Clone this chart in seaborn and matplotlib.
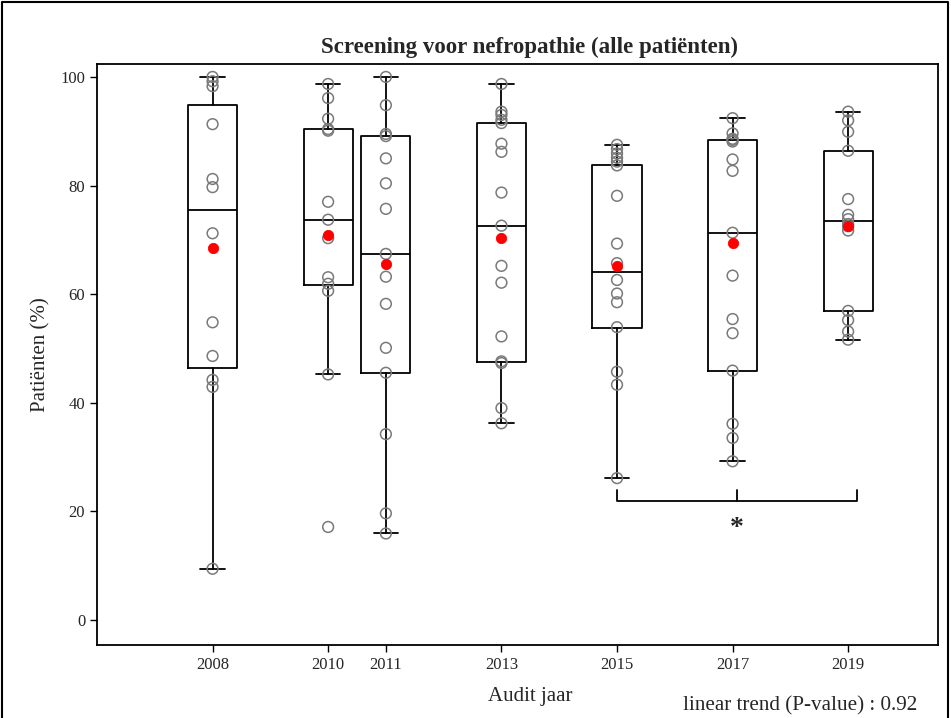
import pandas as pd
import matplotlib
matplotlib.use("Agg")
import matplotlib.pyplot as plt
import seaborn as sns

# audit years and per-centre percentages
years = [2008, 2010, 2011, 2013, 2015, 2017, 2019]

pts_2008 = [100, 99.2, 98.3, 91.3, 81.2, 79.7, 71.2, 54.8, 48.6, 44.2, 42.9, 9.4]
pts_2010 = [98.7, 96.1, 92.3, 90.4, 90.1, 77.0, 73.7, 70.3, 63.1, 61.9, 60.6, 45.2, 17.1]
pts_2011 = [100, 94.8, 89.5, 89.1, 85.0, 80.4, 75.7, 67.4, 63.2, 58.2, 50.1, 45.5, 34.2, 19.6, 15.9]
pts_2013 = [98.7, 93.6, 93.0, 92.1, 91.5, 87.7, 86.2, 78.7, 72.6, 65.2, 62.1, 52.2, 47.6, 47.3, 39.0, 36.2]
pts_2015 = [87.5, 86.7, 85.9, 85.1, 84.4, 83.7, 78.1, 69.3, 65.7, 62.6, 60.1, 58.5, 53.9, 45.7, 43.3, 26.1]
pts_2017 = [92.4, 89.6, 88.6, 88.4, 88.1, 84.8, 82.7, 71.3, 63.4, 55.4, 52.8, 45.9, 36.1, 33.5, 29.2]
pts_2019 = [93.6, 92.0, 89.9, 86.4, 77.5, 74.6, 73.8, 72.9, 72.5, 71.7, 56.9, 55.2, 53.1, 51.6]
all_pts = [pts_2008, pts_2010, pts_2011, pts_2013, pts_2015, pts_2017, pts_2019]

# box statistics as drawn in the chart
whis_hi = [100, 98.7, 100, 98.7, 87.5, 92.4, 93.6]
q3 = [94.8, 90.4, 89.1, 91.5, 83.8, 88.3, 86.4]
medians = [75.4, 73.7, 67.4, 72.6, 64.1, 71.2, 73.4]
q1 = [46.3, 61.6, 45.5, 47.5, 53.8, 45.9, 56.9]
whis_lo = [9.4, 45.2, 15.9, 36.2, 26.1, 29.2, 51.6]

# overall (patient) means, red dots
means = [68.4, 70.9, 65.6, 70.3, 65.2, 69.5, 72.6]

sig_pair = (2015, 2019.15)
p_trend = 0.92


def build_frames():
    rows = []
    for yr, vals in zip(years, all_pts):
        for v in vals:
            rows.append({"year": yr, "value": v})
    pts = pd.DataFrame(rows)
    mean_df = pd.DataFrame({"year": years, "value": means})
    return pts, mean_df


def main():
    pts, mean_df = build_frames()

    sns.set_theme(style="ticks")
    plt.rcParams["font.family"] = ["Liberation Serif", "DejaVu Serif"]

    fig = plt.figure(figsize=(9.51, 7.18), dpi=100)
    ax = fig.add_axes([0.102, 0.102, 0.884, 0.809])

    stats = []
    for i in range(len(years)):
        stats.append({"med": medians[i], "q1": q1[i], "q3": q3[i],
                      "whislo": whis_lo[i], "whishi": whis_hi[i], "fliers": []})
    line = {"color": "black", "linewidth": 1.3}
    ax.bxp(stats, positions=years, widths=0.85, capwidths=0.42, showfliers=False,
           boxprops=line, whiskerprops=line, capprops=line, medianprops=line,
           manage_ticks=False)

    sns.scatterplot(data=pts, x="year", y="value", ax=ax, facecolor="none",
                    edgecolor="#7a7a7a", linewidth=1.1, s=60, zorder=3)
    sns.scatterplot(data=mean_df, x="year", y="value", ax=ax, color="red",
                    edgecolor="red", s=55, zorder=4)

    # significance bracket
    x0, x1 = sig_pair
    xm = (x0 + x1) / 2
    ax.plot([x0, x0, x1, x1], [23.9, 21.9, 21.9, 23.9], color="black", lw=1.3)
    ax.plot([xm, xm], [21.9, 23.9], color="black", lw=1.3)
    ax.text(xm, 16.8, "*", ha="center", va="center", fontsize=20,
            fontweight="bold")

    ax.set_xlim(2006.0, 2020.55)
    ax.set_ylim(-4.6, 102.4)
    ax.set_xticks(years)
    ax.set_xticklabels([str(y) for y in years])
    ax.set_yticks([0, 20, 40, 60, 80, 100])
    ax.tick_params(labelsize=12, length=5, width=1, direction="out", color="black")
    for s in ax.spines.values():
        s.set_visible(True)
        s.set_color("black")
        s.set_linewidth(1.3)

    ax.set_title("Screening voor nefropathie (alle patiënten)", fontsize=16.5,
                 fontweight="bold", x=0.515, pad=8)
    ax.set_xlabel("Audit jaar", fontsize=15)
    ax.set_ylabel("Patiënten (%)", fontsize=15)
    ax.xaxis.set_label_coords(0.515, -0.072)
    ax.yaxis.set_label_coords(-0.055, 0.5)
    fig.text(0.965, 0.003, "linear trend (P-value) : %.2f" % p_trend,
             ha="right", va="bottom", fontsize=15.2)

    # outer frame (bottom edge falls outside the picture)
    fig.add_artist(plt.Line2D([0.002, 0.002, 0.997, 0.997], [0.0, 0.997, 0.997, 0.0],
                              color="black", lw=1.5, transform=fig.transFigure))

    fig.savefig("out.png", dpi=100)


if __name__ == "__main__":
    main()
